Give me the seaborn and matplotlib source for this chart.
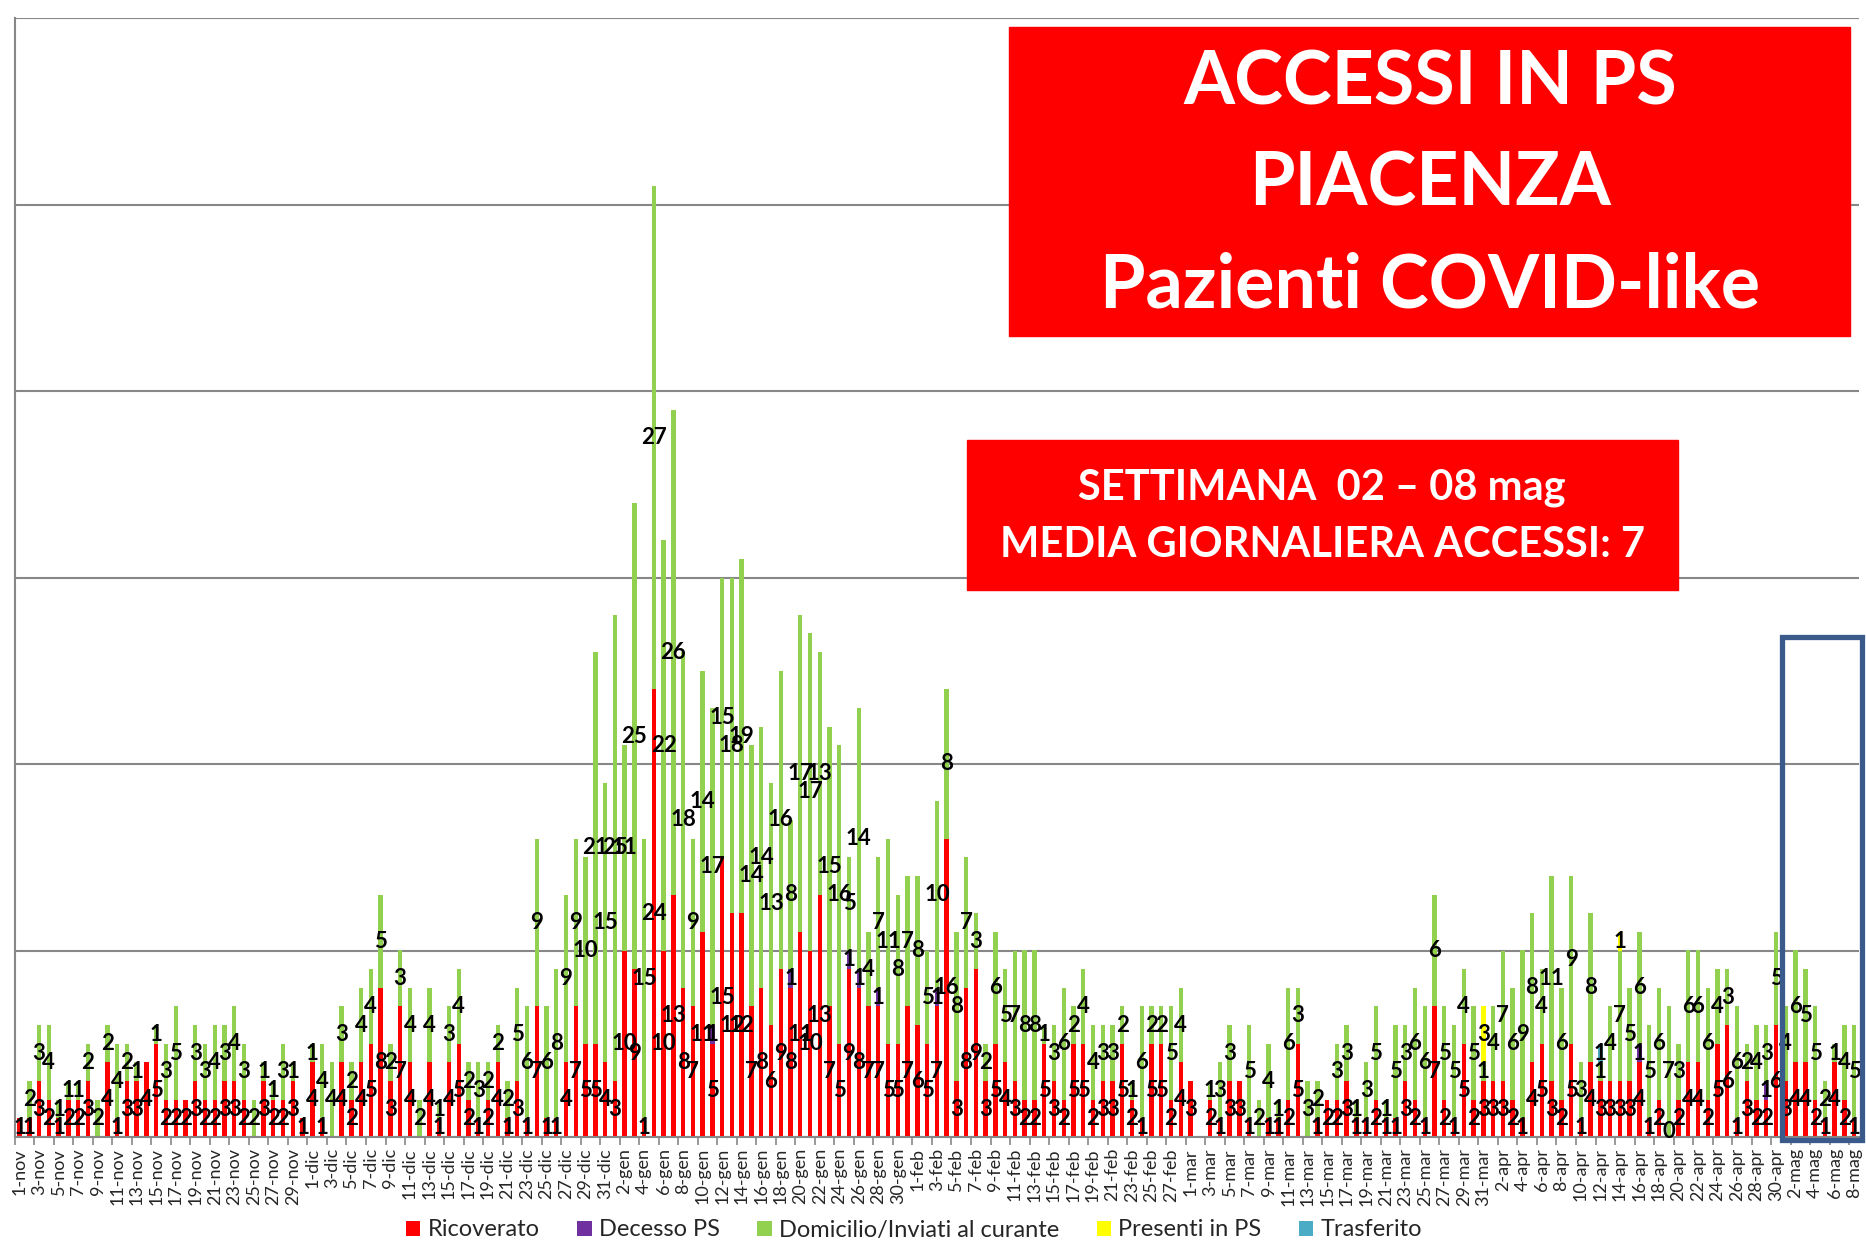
import numpy as np
import pandas as pd
import matplotlib
matplotlib.use("Agg")
import matplotlib.pyplot as plt
from matplotlib.patches import Rectangle, Patch
import seaborn as sns

# --- dati -------------------------------------------------------------
mesi = {11: "nov", 12: "dic", 1: "gen", 2: "feb", 3: "mar", 4: "apr", 5: "mag"}
giorni = pd.date_range("2020-11-01", "2021-05-08", freq="D")
date_labels = [f"{d.day}-{mesi[d.month]}" for d in giorni]

# None = nessun valore (nessuna etichetta)
ricoverato = [
    1, 1, 3, 2, 1, 2, 2, 3, None, 4, 1, 3, 3, 4, 5, 2, 2, 2, 3, 2,
    2, 3, 3, 2, None, 3, 2, 2, 3, 1,
    4, 1, None, 4, 2, 4, 5, 8, 3, 7, 4, None, 4, 1, 4, 5, 2, 1, 2, 4,
    1, 3, 1, 7, 1, 1, 4, 7, 5, 5, 4,
    3, 10, 9, 1, 24, 10, 13, 8, 7, 11, 5, 15, 12, 12, 7, 8, 6, 9, 8, 11,
    10, 13, 7, 5, 9, 8, 7, 7, 5, 5, 7,
    6, 5, 7, 16, 3, 8, 9, 3, 5, 4, 3, 2, 2, 5, 3, 2, 5, 5, 2, 3,
    3, 5, 2, 1, 5, 5, 2, 4,
    3, None, 2, 1, 3, 3, 1, None, 1, 1, 2, 5, None, 1, 2, 2, 3, 1, 1, 2,
    1, 1, 3, 2, 1, 7, 2, 1, 5, 2, 3,
    3, 3, 2, 1, 4, 5, 3, 2, 5, 1, 4, 3, 3, 3, 3, 4, 1, 2, 0, 2,
    4, 4, 2, 5, 6, 1, 3, 2, 2, 6,
    3, 4, 4, 2, 1, 4, 2, 1,
]
domicilio = [
    0, 2, 3, 4, 1, 1, 1, 2, 2, 2, 4, 2, 1, 0, 1, 3, 5, 0, 3, 3,
    4, 3, 4, 3, 2, 1, 1, 3, 1, 0,
    1, 4, 4, 3, 2, 4, 4, 5, 2, 3, 4, 2, 4, 1, 3, 4, 2, 3, 2, 2,
    2, 5, 6, 9, 6, 8, 9, 9, 10, 21, 15,
    25, 11, 25, 15, 27, 22, 26, 18, 9, 14, 17, 15, 18, 19, 14, 14, 13, 16, 8, 17,
    17, 13, 15, 16, 5, 14, 4, 7, 11, 8, 7,
    8, 5, 10, 8, 8, 7, 3, 2, 6, 5, 7, 8, 8, 1, 3, 6, 2, 4, 4, 3,
    3, 2, 1, 6, 2, 2, 5, 4,
    0, 0, 1, 3, 3, 0, 5, 2, 4, 1, 6, 3, 3, 2, 0, 3, 3, 1, 3, 5,
    1, 5, 3, 6, 6, 6, 5, 5, 4, 5, 1,
    4, 7, 6, 9, 8, 4, 11, 6, 9, 3, 8, 1, 4, 7, 5, 6, 5, 6, 7, 3,
    6, 6, 6, 4, 3, 6, 2, 4, 3, 5,
    4, 6, 5, 5, 2, 1, 4, 5,
]
decesso_ps = {"11-gen": 1, "19-gen": 1, "25-gen": 1, "26-gen": 1, "28-gen": 1,
              "3-feb": 1, "16-apr": 1, "29-apr": 1}
presenti_ps = {"31-mar": 3, "14-apr": 1}
trasferito = {"12-apr": 1}

serie = {
    "Ricoverato": [v or 0 for v in ricoverato],
    "Decesso PS": [decesso_ps.get(l, 0) for l in date_labels],
    "Domicilio/Inviati al curante": domicilio,
    "Presenti in PS": [presenti_ps.get(l, 0) for l in date_labels],
    "Trasferito": [trasferito.get(l, 0) for l in date_labels],
}
colori = {
    "Ricoverato": "#FF0000",
    "Decesso PS": "#7030A0",
    "Domicilio/Inviati al curante": "#92D050",
    "Presenti in PS": "#FFFF00",
    "Trasferito": "#4BACC6",
}
ordine = list(serie.keys())

n = len(date_labels)
df = pd.DataFrame({"giorno": np.arange(n), **serie})
df_long = df.melt(id_vars="giorno", var_name="esito", value_name="n")

# --- grafico -----------------------------------------------------------
sns.set_theme(style="white")
plt.rcParams["font.family"] = ["Lato", "DejaVu Sans"]

W, H = 1866, 1242
fig = plt.figure(figsize=(W / 100, H / 100), dpi=100)
ax = fig.add_axes([14.7 / W, 1 - 1137 / H, (1859 - 14.7) / W, (1137 - 18) / H])

sns.histplot(data=df_long, x="giorno", weights="n", hue="esito",
             hue_order=ordine[::-1], multiple="stack", discrete=True,
             shrink=0.45, palette=colori, alpha=1, linewidth=0,
             legend=False, ax=ax)

# etichette dati al centro di ogni segmento
base = np.zeros(n)
for nome in ordine:
    vals = np.array(serie[nome], dtype=float)
    for i, v in enumerate(vals):
        show = v > 0 or (nome == "Ricoverato" and ricoverato[i] == 0)
        if show:
            ax.text(i, base[i] + v / 2 if v > 0 else 0.3, f"{int(v)}",
                    ha="center", va="center", fontsize=16,
                    fontweight="bold", color="black")
    base += vals

ax.set_xlim(-0.5, n - 0.5)
ax.set_ylim(0, 60)
ax.set_yticks(range(0, 61, 10))
ax.set_yticklabels([])
ax.tick_params(axis="y", length=0)
ax.yaxis.grid(True, color="#878787", linewidth=1.5)
ax.set_axisbelow(True)
ax.set_xlabel("")
ax.set_ylabel("")

ax.set_xticks(np.arange(0, n, 2))
ax.set_xticklabels(date_labels[::2], rotation=90, fontsize=13)
ax.set_xticks(np.arange(-0.5, n, 2), minor=True)
ax.tick_params(axis="x", which="major", length=0, pad=8)
ax.tick_params(axis="x", which="minor", length=6, width=1.2,
               color="#878787", bottom=True)

for s in ["top", "right"]:
    ax.spines[s].set_visible(False)
ax.spines["left"].set_color("#878787")
ax.spines["left"].set_linewidth(1.5)
ax.spines["bottom"].set_color("#878787")
ax.spines["bottom"].set_linewidth(1.5)


def fx(x):
    return x / W


def fy(y):
    return 1 - y / H


# riquadro titolo
fig.add_artist(Rectangle((fx(1009), fy(336)), fx(841), 309 / H,
                         transform=fig.transFigure, color="#FF0000", zorder=5))
for txt, y in [("ACCESSI IN PS", 83), ("PIACENZA", 184), ("Pazienti COVID-like", 286)]:
    fig.text(fx(1430), fy(y), txt, ha="center", va="center", fontsize=53,
             fontweight="bold", color="white", zorder=6)

# riquadro settimana
fig.add_artist(Rectangle((fx(967), fy(590)), fx(711), 150 / H,
                         transform=fig.transFigure, color="#FF0000", zorder=5))
fig.text(fx(1322), fy(488), "SETTIMANA  02 \u2013 08 mag", ha="center",
         va="center", fontsize=30, fontweight="bold", color="white", zorder=6)
fig.text(fx(1322), fy(545), "MEDIA GIORNALIERA ACCESSI: 7", ha="center",
         va="center", fontsize=30, fontweight="bold", color="white", zorder=6)

# riquadro ultima settimana
fig.add_artist(Rectangle((fx(1782), fy(1140)), fx(80), 503 / H,
                         transform=fig.transFigure, fill=False,
                         edgecolor="#3A5A8C", linewidth=3.8, zorder=7))

handles = [Patch(facecolor=colori[k], edgecolor="none", label=k) for k in ordine]
fig.legend(handles=handles, loc="center", bbox_to_anchor=(fx(914), fy(1230)),
           ncol=5, frameon=False, fontsize=17, handlelength=0.6,
           handleheight=0.6, handletextpad=0.3, columnspacing=1.6)

fig.savefig("out.png", dpi=100)
